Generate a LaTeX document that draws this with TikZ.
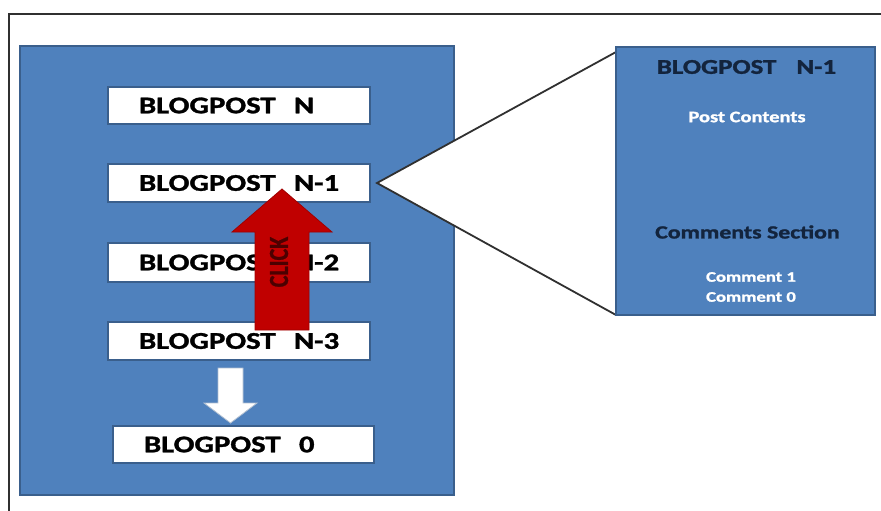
\documentclass[tikz,border=0pt]{standalone}
\usepackage{fontspec}
\setmainfont{Carlito}[BoldFeatures={FakeBold=1.2}]
\usetikzlibrary{calc}
\definecolor{officeblue}{HTML}{4F81BD}
\definecolor{blueedge}{HTML}{3A5F8C}
\definecolor{navytext}{HTML}{13243D}
\definecolor{arrowred}{HTML}{C00000}
\definecolor{arrowedge}{HTML}{A00000}
\definecolor{framegray}{HTML}{303030}
\newcommand{\wide}[1]{\scalebox{1.28}[1]{#1}}
\tikzset{
  panel/.style={draw=blueedge, line width=1.6pt, fill=officeblue, inner sep=0pt},
  postbox/.style={draw=blueedge, line width=1.2pt, fill=white, inner xsep=31pt,
    inner ysep=0pt, text width=200pt, align=left, minimum height=37pt,
    font=\bfseries\fontsize{24}{28}\selectfont},
  titletext/.style={inner sep=0pt, text=navytext, font=\bfseries\fontsize{21}{25}\selectfont},
  headtext/.style={inner sep=0pt, text=navytext, font=\bfseries\fontsize{18.6}{22}\selectfont},
  smalltext/.style={inner sep=0pt, text=white, font=\bfseries\fontsize{16}{19}\selectfont},
  commenttext/.style={inner sep=0pt, text=white, font=\bfseries\fontsize{14.6}{17}\selectfont},
  zoomline/.style={draw=framegray, line width=1.8pt},
}
\begin{document}
\begin{tikzpicture}[x=1pt, y=-1pt]
  \useasboundingbox (0,0) rectangle (881,511);
  % outer frame: top and left edges
  \coordinate (frametr) at (881,14);
  \coordinate (frametl) at (9,14);
  \coordinate (framebl) at (9,511);
  \draw[framegray, line width=1.5pt] (frametr) -- (frametl) -- (framebl);

  % list of posts
  \node[panel, minimum width=434pt, minimum height=449pt] (list) at (237,270.5) {};

  % zoom wedge from the selected post to the detail panel
  \coordinate (tip) at (377,183);
  \coordinate (wtop) at (616,52);
  \coordinate (wbot) at (616,315);
  \fill[white] (tip) -- (wtop) -- (wbot) -- cycle;
  \draw[zoomline] (wtop) -- (tip) -- (wbot);

  \node[postbox] (bpN)  at (239,105.5) {\wide{BLOGPOST\hspace{0.6em}N}};
  \node[postbox, minimum height=38pt] (bpN1) at (239,183)   {\wide{BLOGPOST\hspace{0.6em}N-1}};
  \node[postbox, minimum height=39pt] (bpN2) at (239,262.5) {\wide{BLOGPOST\hspace{0.6em}N-2}};
  \node[postbox, minimum height=38pt] (bpN3) at (239,341)   {\wide{BLOGPOST\hspace{0.6em}N-3}};
  \node[postbox, text width=199pt] (bp0) at (243.5,444.5) {\wide{BLOGPOST\hspace{0.6em}0}};

  % detail panel
  \node[panel, minimum width=259pt, minimum height=268pt] (detail) at (745.5,181) {};
  \node[titletext]   (dtitle)   at (746.5,67)  {\wide{BLOGPOST\hspace{0.75em}N-1}};
  \node[smalltext]   (dcontent) at (747,117)   {\wide{Post Contents}};
  \node[headtext]    (dcomm)    at (747.5,232) {\wide{Comments Section}};
  \node[commenttext] (dc1)      at (751,277)   {\wide{Comment 1}};
  \node[commenttext] (dc0)      at (751,297)   {\wide{Comment 0}};

  % white arrow: continue down the list
  \draw[draw=blueedge!40, fill=white, line width=0.8pt]
    (218,368) -- (243,368) -- (243,403) -- (257,403) -- (230.5,423)
    -- (204,403) -- (218,403) -- cycle;

  % red click arrow
  \draw[draw=arrowedge, fill=arrowred, line width=0.8pt]
    (255,330) -- (255,232) -- (232,232) -- (282,189) -- (332,232)
    -- (309,232) -- (309,330) -- cycle;
  \node[rotate=90, inner sep=0pt, text=black!70!red,
        font=\bfseries\fontsize{22}{26}\selectfont] (click) at (279,262)
        {\scalebox{1}[1.25]{CLICK}};
\end{tikzpicture}
\end{document}
